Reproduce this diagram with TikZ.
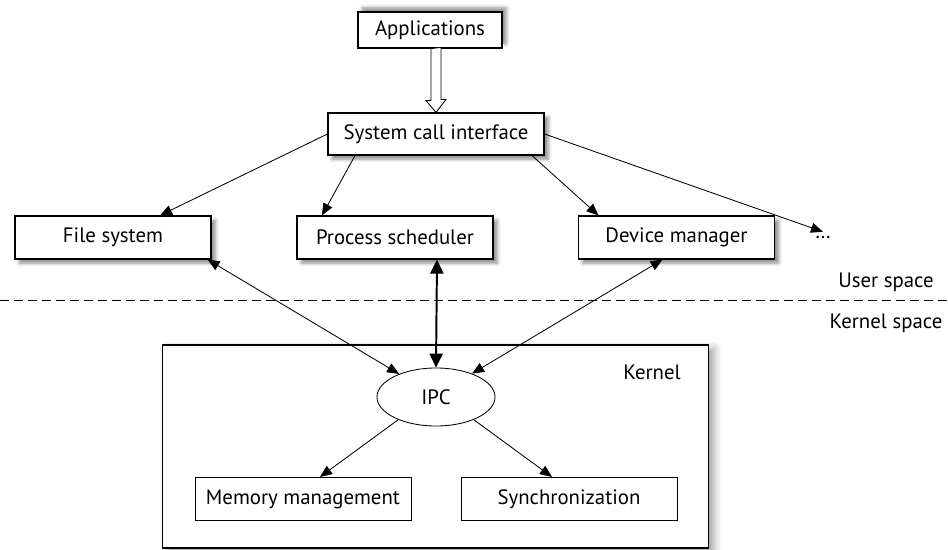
\documentclass[tikz,border=0pt]{standalone}
\usepackage{fontspec}
\setmainfont{PT Sans}
\usepackage{tikz}
\usetikzlibrary{shapes, arrows.meta, positioning, shadows.blur, calc}

\begin{document}
\begin{tikzpicture}[x=0.025cm, y=-0.025cm,
        font=\fontsize{14.8}{16}\selectfont,
        box/.style={draw, thick, fill=white, inner sep=0pt, minimum height=1.075cm},
        plain/.style={draw, semithick, fill=white, inner sep=0pt, minimum width=5.4cm, minimum height=1.08cm},
        dshadow/.style={blur shadow={shadow xshift=3pt, shadow yshift=-3pt, shadow blur radius=2.5pt, shadow opacity=45}},
        lshadow/.style={blur shadow={shadow xshift=3pt, shadow yshift=3pt, shadow blur radius=2.5pt, shadow opacity=45}},
        conn/.style={semithick, -{Triangle[length=0.3cm, width=0.25cm]}},
        both/.style={semithick, {Triangle[length=0.3cm, width=0.25cm]}-{Triangle[length=0.3cm, width=0.25cm]}}
    ]
    \useasboundingbox (0,0) rectangle (948,550);

    % Kernel frame
    \node[draw, thick, fill=white, minimum width=13.625cm, minimum height=5.075cm,
        blur shadow={shadow xshift=4pt, shadow yshift=-3pt, shadow blur radius=6pt, shadow opacity=40}] (kernel) at (435.5,446.5) {};
    \node (klabel) at (652,372) {Kernel};

    % Top
    \node[box, lshadow, minimum width=3.6cm, minimum height=0.9cm] (apps) at (430,30) {Applications};
    \node[box, dshadow, minimum width=5.4cm, minimum height=1.05cm] (sci) at (436,134) {System call interface};
    \draw[fill=white, semithick] ($(apps.south -| sci.north)+(-5,0)$) -- ++(0,52) -- ++(-5,0) -- (sci.north)
        -- ++(10,-13) -- ++(-5,0) -- ++(0,-52) -- cycle;

    % Subsystems
    \foreach \n/\x/\t in {fs/113/File system, ps/395/Process scheduler, dm/676.5/Device manager}
        \node[box, dshadow, minimum width=4.9cm] (\n) at (\x,237.5) {\t};
    \node (more) at (823,238) {\dots};

    % Spaces
    \draw[semithick, dash pattern=on 0.225cm off 0.125cm] (0,300) -- (948,300);
    \node (user) at (886,282) {User space};
    \node (kspace) at (886,323) {Kernel space};

    % Inside kernel
    \node[draw, semithick, ellipse, minimum width=2.95cm, minimum height=1.45cm, inner sep=0pt] (ipc) at (436,397) {IPC};
    \node[plain] (mem) at (303,499) {Memory management};
    \node[plain] (sync) at (569,499) {Synchronization};

    % Calls
    \draw[conn] (sci.west) -- ($(fs.north)+(47,0)$);
    \draw[conn] ($(sci.south)+(-81,0)$) -- ($(ps.north)+(-73,0)$);
    \draw[conn] ($(sci.south)+(96,0)$) -- ($(dm.north)+(-78,0)$);
    \draw[conn] (sci.east) -- (more.north);

    % Messages
    \draw[both] ($(fs.south east)+(-4,0)$) -- (ipc.148);
    \draw[line width=1.4pt, {Triangle[length=0.35cm, width=0.33cm]}-{Triangle[length=0.35cm, width=0.33cm]}] ($(ps.south)+(42,0)$) -- (ipc.north);
    \draw[both] ($(dm.south)+(-14,0)$) -- (ipc.33);
    \draw[conn] (ipc.211) -- ($(mem.north)+(17,0)$);
    \draw[conn] (ipc.329) -- ($(sync.north)+(-17,0)$);
\end{tikzpicture}
\end{document}
